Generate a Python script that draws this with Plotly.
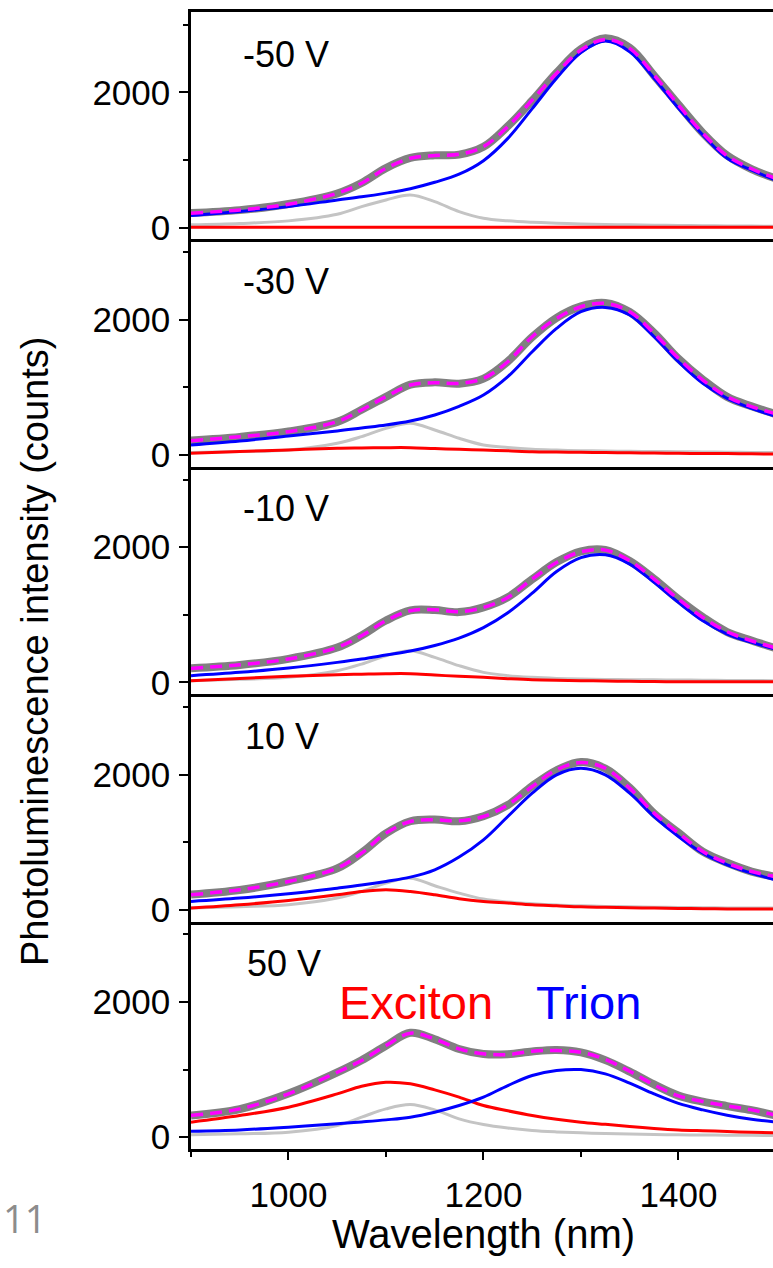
import plotly.graph_objects as go
from plotly.subplots import make_subplots

# ---------------- data ----------------
wavelength = [900, 950, 1000, 1050, 1075, 1100, 1125, 1150, 1175, 1200, 1225,
              1250, 1275, 1300, 1325, 1350, 1375, 1400, 1425, 1450, 1475, 1500]

panel_labels = ["-50 V", "-30 V", "-10 V", "10 V", "50 V"]

# -50 V
data_m50 = [215, 258, 348, 505, 660, 880, 1030, 1070, 1080, 1195, 1500, 1880, 2290, 2640, 2800, 2660, 2250, 1820, 1400, 1065, 865, 725]
fit_m50 = [212, 261, 345, 508, 656, 877, 1025, 1065, 1085, 1198, 1494, 1888, 2283, 2628, 2785, 2652, 2258, 1814, 1395, 1060, 870, 725]
trion_m50 = [177, 237, 310, 409, 455, 510, 575, 670, 790, 990, 1320, 1760, 2210, 2590, 2760, 2603, 2209, 1765, 1370, 1025, 850, 700]
exciton_m50 = [5, 5, 5, 5, 5, 5, 5, 5, 5, 5, 5, 5, 5, 5, 5, 5, 5, 5, 5, 5, 5, 5]
third_m50 = [40, 60, 99, 197, 310, 409, 483, 385, 237, 138, 100, 79, 65, 54, 47, 40, 36, 32, 28, 25, 22, 20]

# -30 V
data_m30 = [215, 268, 348, 490, 670, 860, 1040, 1075, 1055, 1130, 1385, 1745, 2030, 2200, 2250, 2115, 1805, 1425, 1115, 860, 720, 605]
fit_m30 = [212, 271, 345, 493, 666, 863, 1035, 1070, 1060, 1134, 1380, 1750, 2021, 2194, 2243, 2120, 1800, 1430, 1109, 863, 715, 610]
trion_m30 = [148, 207, 281, 355, 400, 444, 503, 592, 720, 887, 1159, 1528, 1873, 2120, 2184, 2071, 1750, 1380, 1060, 838, 690, 570]
exciton_m30 = [25, 50, 74, 99, 104, 108, 108, 94, 84, 74, 62, 49, 44, 39, 35, 32, 28, 25, 22, 20, 17, 15]
third_m30 = [35, 50, 74, 173, 271, 394, 468, 370, 247, 148, 110, 84, 72, 64, 58, 54, 51, 49, 45, 42, 38, 35]

# -10 V
data_m10 = [210, 258, 348, 515, 695, 915, 1065, 1070, 1040, 1110, 1260, 1525, 1780, 1940, 1960, 1795, 1530, 1230, 965, 745, 620, 505]
fit_m10 = [207, 261, 345, 518, 690, 912, 1060, 1075, 1045, 1109, 1257, 1528, 1775, 1932, 1957, 1800, 1528, 1233, 961, 749, 616, 510]
trion_m10 = [99, 148, 212, 296, 345, 404, 463, 545, 655, 810, 1030, 1320, 1640, 1845, 1888, 1750, 1479, 1183, 912, 715, 592, 490]
exciton_m10 = [25, 59, 89, 113, 121, 128, 128, 108, 90, 74, 55, 39, 30, 25, 20, 15, 12, 10, 10, 10, 10, 10]
third_m10 = [25, 45, 74, 173, 271, 394, 468, 370, 247, 148, 100, 74, 58, 49, 44, 40, 37, 35, 32, 29, 27, 25]

# 10 V
data_p10 = [225, 292, 422, 612, 842, 1130, 1310, 1335, 1310, 1385, 1550, 1830, 2065, 2185, 2090, 1805, 1425, 1140, 860, 695, 565, 485]
fit_p10 = [222, 296, 419, 616, 838, 1134, 1307, 1331, 1316, 1380, 1553, 1824, 2071, 2179, 2095, 1800, 1430, 1134, 863, 690, 567, 490]
trion_p10 = [123, 173, 237, 320, 365, 419, 483, 592, 780, 1035, 1380, 1725, 1997, 2095, 1997, 1725, 1380, 1085, 838, 666, 542, 440]
exciton_p10 = [25, 74, 138, 222, 271, 296, 271, 222, 163, 123, 99, 74, 59, 44, 37, 30, 25, 20, 16, 13, 11, 10]
third_p10 = [25, 45, 74, 173, 271, 394, 468, 355, 247, 158, 115, 89, 70, 59, 50, 44, 38, 35, 31, 28, 26, 25]

# 50 V
data_p50 = [322, 415, 645, 958, 1138, 1352, 1545, 1450, 1305, 1230, 1228, 1268, 1290, 1255, 1140, 970, 780, 615, 525, 460, 400, 320]
fit_p50 = [320, 419, 641, 961, 1134, 1356, 1538, 1454, 1307, 1233, 1223, 1272, 1282, 1257, 1150, 975, 775, 612, 527, 463, 404, 325]
trion_p50 = [89, 108, 148, 197, 225, 256, 296, 370, 468, 592, 764, 912, 986, 1000, 937, 800, 640, 500, 404, 325, 265, 225]
exciton_p50 = [222, 320, 444, 641, 754, 813, 789, 700, 592, 468, 390, 320, 265, 222, 190, 158, 130, 108, 95, 84, 72, 64]
third_p50 = [35, 50, 74, 173, 296, 419, 483, 404, 271, 187, 135, 99, 78, 64, 55, 48, 40, 35, 32, 30, 27, 25]

panels = [
    (data_m50, fit_m50, trion_m50, exciton_m50, third_m50),
    (data_m30, fit_m30, trion_m30, exciton_m30, third_m30),
    (data_m10, fit_m10, trion_m10, exciton_m10, third_m10),
    (data_p10, fit_p10, trion_p10, exciton_p10, third_p10),
    (data_p50, fit_p50, trion_p50, exciton_p50, third_p50),
]

x_ticks = [1000, 1200, 1400]
y_ticks = [0, 2000]

# ---------------- figure ----------------
FONT = "Liberation Sans, Arial, sans-serif"
W, H = 773, 1268
ML, MR, MT, MB = 191, 0, 12, 119

fig = make_subplots(rows=5, cols=1, shared_xaxes=True, vertical_spacing=0)

for i, (d, f, t, e, g) in enumerate(panels, start=1):
    fig.add_trace(go.Scatter(x=wavelength, y=d, mode="lines", line=dict(color="#808080", width=8, shape="spline"),
                             showlegend=False), row=i, col=1)
    fig.add_trace(go.Scatter(x=wavelength, y=g, mode="lines", line=dict(color="#c4c4c4", width=3, shape="spline"),
                             showlegend=False), row=i, col=1)
    fig.add_trace(go.Scatter(x=wavelength, y=e, mode="lines", line=dict(color="#ff0000", width=3, shape="spline"),
                             showlegend=False), row=i, col=1)
    fig.add_trace(go.Scatter(x=wavelength, y=t, mode="lines", line=dict(color="#0000ff", width=3, shape="spline"),
                             showlegend=False), row=i, col=1)
    fig.add_trace(go.Scatter(x=wavelength, y=f, mode="lines",
                             line=dict(color="#ff00ff", width=3.5, dash="12px,7px", shape="spline"),
                             showlegend=False), row=i, col=1)

for i in range(1, 6):
    last = (i == 5)
    fig.update_xaxes(row=i, col=1, range=[900, 1497], showline=True, linewidth=2.5, linecolor="black",
                     mirror=(i == 1), showgrid=False, zeroline=False,
                     ticks="outside" if last else "", ticklen=8, tickwidth=2, tickcolor="black",
                     tickvals=x_ticks if last else [], showticklabels=last, ticklabelstandoff=5,
                     tickfont=dict(family=FONT, size=35, color="black"),
                     minor=dict(ticks="outside", dtick=100, tick0=900, ticklen=5, tickwidth=2,
                                tickcolor="black") if last else dict(ticks=""))
    fig.update_yaxes(row=i, col=1, range=[-175, 3190], showline=True, linewidth=2.5, linecolor="black",
                     mirror=False, showgrid=False, zeroline=False,
                     ticks="outside", ticklen=9, tickwidth=2, tickcolor="black",
                     tickvals=y_ticks, ticklabelstandoff=2,
                     tickfont=dict(family=FONT, size=35, color="black"),
                     minor=dict(ticks="outside", tickvals=[1000, 3000], ticklen=5, tickwidth=2, tickcolor="black"))

annotations = []
label_x = [951, 951, 951, 953, 955]
for i, (lab, lx) in enumerate(zip(panel_labels, label_x), start=1):
    annotations.append(dict(text=lab, x=lx, y=0.815, xref=f"x{i}" if i > 1 else "x",
                            yref=(f"y{i} domain" if i > 1 else "y domain"),
                            xanchor="left", yanchor="middle", showarrow=False,
                            font=dict(family=FONT, size=36, color="black")))

annotations.append(dict(text="Exciton", x=1131, y=1990, xref="x5", yref="y5", xanchor="center", yanchor="middle",
                        showarrow=False, font=dict(family=FONT, size=47, color="#ff0000")))
annotations.append(dict(text="Trion", x=1308, y=1990, xref="x5", yref="y5", xanchor="center", yanchor="middle",
                        showarrow=False, font=dict(family=FONT, size=47, color="#0000ff")))

pw = W - ML - MR
ph = H - MT - MB
annotations.append(dict(text="Photoluminescence intensity (counts)", textangle=-90,
                        x=(35 - ML) / pw, y=(H - MB - 652) / ph, xref="paper", yref="paper",
                        xanchor="center", yanchor="middle", showarrow=False,
                        font=dict(family=FONT, size=38, color="black")))
annotations.append(dict(text="Wavelength (nm)", x=(483 - ML) / pw, y=(H - MB - 1234) / ph,
                        xref="paper", yref="paper", xanchor="center", yanchor="middle", showarrow=False,
                        font=dict(family=FONT, size=40, color="black")))
annotations.append(dict(text="11", x=(1 - ML) / pw, y=(H - MB - 1218) / ph,
                        xref="paper", yref="paper", xanchor="left", yanchor="middle", showarrow=False,
                        font=dict(family="Open Sans, Liberation Sans, sans-serif", size=38, color="#8c8c8c")))

fig.update_layout(width=W, height=H, margin=dict(l=ML, r=MR, t=MT, b=MB, pad=0),
                  plot_bgcolor="white", paper_bgcolor="white", annotations=annotations,
                  showlegend=False)

fig.write_html("out.html")
